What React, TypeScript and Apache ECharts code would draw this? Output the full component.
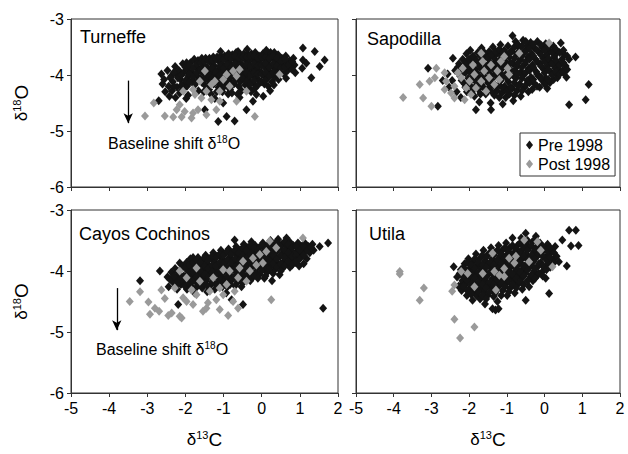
import React, { useEffect, useRef } from "react";
import * as echarts from "echarts";

// δ13C / δ18O pairs, Pre 1998 and Post 1998, for each reef site
const turneffePre: number[][] = [
  [-2.70,-4.46],[-2.63,-3.98],[-2.60,-4.16],[-2.56,-4.08],[-2.53,-4.30],
  [-2.47,-3.92],[-2.44,-4.20],[-2.42,-4.38],[-2.37,-4.02],[-2.33,-4.12],[-2.35,-4.28],
  [-2.27,-3.85],[-2.24,-3.98],[-2.22,-4.22],[-2.26,-4.40],[-2.17,-3.92],[-2.13,-4.08],[-2.15,-4.32],
  [-2.07,-3.80],[-2.04,-3.95],[-2.02,-4.15],[-2.06,-4.25],
  [-1.97,-3.78],[-1.94,-3.88],[-1.92,-4.02],[-1.96,-4.20],[-1.93,-4.36],
  [-1.87,-3.78],[-1.84,-3.95],[-1.82,-4.10],
  [-1.77,-3.72],[-1.74,-3.85],[-1.72,-4.00],[-1.76,-4.18],
  [-1.67,-3.74],[-1.64,-3.90],[-1.62,-4.06],[-1.66,-4.28],
  [-1.57,-3.70],[-1.54,-3.82],[-1.52,-3.98],[-1.56,-4.14],
  [-1.47,-3.70],[-1.44,-3.86],[-1.42,-4.05],[-1.46,-4.20],[-1.49,-4.62],
  [-1.37,-3.70],[-1.34,-3.78],[-1.32,-3.94],[-1.36,-4.10],[-1.33,-4.34],
  [-1.27,-3.68],[-1.24,-3.84],[-1.22,-4.00],[-1.26,-4.16],[-1.23,-4.42],
  [-1.17,-3.68],[-1.14,-3.74],[-1.12,-3.90],[-1.16,-4.06],[-1.13,-4.22],[-1.14,-4.83],
  [-1.07,-3.66],[-1.04,-3.80],[-1.02,-3.96],[-1.06,-4.12],[-1.03,-4.30],[-1.01,-4.50],
  [-0.97,-3.66],[-0.94,-3.72],[-0.92,-3.88],[-0.96,-4.02],[-0.93,-4.18],[-0.92,-4.74],
  [-0.87,-3.62],[-0.84,-3.78],[-0.82,-3.94],[-0.86,-4.10],[-0.83,-4.26],
  [-0.77,-3.64],[-0.74,-3.70],[-0.72,-3.85],[-0.76,-4.00],[-0.73,-4.16],[-0.71,-4.82],
  [-0.62,-3.58],[-0.67,-3.60],[-0.64,-3.74],[-0.62,-3.90],[-0.66,-4.06],[-0.63,-4.34],
  [-0.57,-3.64],[-0.54,-3.80],[-0.52,-3.96],[-0.56,-4.12],[-0.53,-4.28],
  [-0.47,-3.62],[-0.44,-3.72],[-0.42,-3.88],[-0.46,-4.02],[-0.43,-4.18],[-0.40,-4.62],
  [-0.37,-3.62],[-0.34,-3.76],[-0.32,-3.92],[-0.36,-4.08],[-0.33,-4.24],
  [-0.27,-3.62],[-0.24,-3.70],[-0.22,-3.86],[-0.26,-4.00],[-0.23,-4.14],[-0.23,-4.47],
  [-0.17,-3.60],[-0.14,-3.74],[-0.12,-3.90],[-0.16,-4.04],[-0.14,-4.35],
  [-0.07,-3.66],[-0.04,-3.80],[-0.02,-3.94],[-0.06,-4.10],[0.04,-4.38],
  [0.03,-3.62],[0.06,-3.72],[0.08,-3.86],[0.04,-4.00],[0.07,-4.16],
  [0.13,-3.62],[0.16,-3.76],[0.18,-3.92],[0.14,-4.06],[0.17,-4.20],
  [0.23,-3.60],[0.26,-3.68],[0.28,-3.84],[0.24,-3.98],[0.27,-4.12],
  [0.33,-3.60],[0.36,-3.74],[0.38,-3.90],[0.34,-4.04],
  [0.43,-3.64],[0.46,-3.80],[0.48,-3.94],[0.44,-4.08],
  [0.53,-3.70],[0.56,-3.84],[0.58,-3.98],
  [0.63,-3.66],[0.66,-3.78],[0.68,-3.92],[0.64,-4.06],
  [0.73,-3.74],[0.76,-3.88],[0.83,-3.70],[0.86,-3.82],[0.88,-3.96],
  [1.08,-3.52],[1.08,-3.73],[1.06,-3.88],[1.17,-3.79],[1.30,-4.05],[1.39,-3.58],[1.52,-3.85],[1.65,-3.73],
  [-2.40,-4.05],[-2.30,-3.95],[-2.30,-4.20],[-2.20,-4.05],[-2.10,-4.00],[-2.10,-4.18],
  [-2.00,-3.86],[-2.00,-4.10],[-1.90,-3.82],[-1.90,-3.98],[-1.90,-4.14],[-1.80,-3.88],[-1.80,-4.04],
  [-1.70,-3.80],[-1.70,-3.96],[-1.70,-4.12],[-1.60,-3.78],[-1.60,-3.92],[-1.60,-4.08],
  [-1.50,-3.76],[-1.50,-3.92],[-1.50,-4.10],[-1.40,-3.74],[-1.40,-3.90],[-1.40,-4.02],[-1.40,-4.18],
  [-1.30,-3.74],[-1.30,-3.88],[-1.30,-4.06],[-1.20,-3.72],[-1.20,-3.94],[-1.20,-4.10],
  [-1.10,-3.70],[-1.10,-3.84],[-1.10,-4.00],[-1.10,-4.16],[-1.00,-3.72],[-1.00,-3.88],[-1.00,-4.04],[-1.00,-4.22],
  [-0.90,-3.68],[-0.90,-3.82],[-0.90,-3.96],[-0.90,-4.12],[-0.80,-3.70],[-0.80,-3.86],[-0.80,-4.02],[-0.80,-4.18],
  [-0.70,-3.66],[-0.70,-3.80],[-0.70,-3.96],[-0.70,-4.10],[-0.60,-3.70],[-0.60,-3.84],[-0.60,-4.00],[-0.60,-4.20],
  [-0.50,-3.68],[-0.50,-3.84],[-0.50,-4.06],[-0.40,-3.68],[-0.40,-3.82],[-0.40,-3.96],[-0.40,-4.12],
  [-0.30,-3.66],[-0.30,-3.84],[-0.30,-4.00],[-0.30,-4.16],[-0.20,-3.66],[-0.20,-3.80],[-0.20,-3.96],[-0.20,-4.10],
  [-0.10,-3.70],[-0.10,-3.84],[-0.10,-3.98],[-0.10,-4.18],[0.00,-3.68],[0.00,-3.82],[0.00,-3.98],[0.00,-4.12],
  [0.10,-3.68],[0.10,-3.80],[0.10,-3.96],[0.10,-4.10],[0.20,-3.70],[0.20,-3.86],[0.20,-4.02],
  [0.30,-3.66],[0.30,-3.80],[0.30,-3.96],[0.40,-3.70],[0.40,-3.84],[0.40,-3.98],
  [0.50,-3.76],[0.50,-3.88],[0.60,-3.72],[0.60,-3.86],[0.70,-3.82],[0.80,-3.76],[0.80,-3.90],
  [-1.98,-4.42],[-1.52,-4.30],[-1.18,-4.30],[-0.88,-4.34],[-0.58,-4.40],[-0.28,-4.30],[0.22,-4.28],
  [-0.78,-4.32],[-1.38,-4.26],[-0.18,-4.24],[0.32,-4.18],[-1.08,-3.58],[-0.38,-3.54],[0.12,-3.56],
];

const turneffePost: number[][] = [
  [-3.06,-4.73],[-2.83,-4.50],[-2.54,-4.73],[-2.32,-4.75],[-2.23,-4.62],[-2.15,-4.53],
  [-2.10,-4.75],[-2.02,-4.65],[-1.84,-4.77],[-1.80,-4.68],[-1.67,-4.62],[-1.45,-4.71],
  [-2.06,-4.29],[-1.80,-4.26],[-1.49,-3.93],[-1.45,-4.29],[-1.32,-4.17],[-1.23,-4.11],
  [-1.10,-4.29],[-0.92,-3.99],[-0.75,-3.93],[-0.66,-4.02],[-0.58,-3.90],[-1.10,-4.47],
  [-1.32,-4.44],[-1.58,-4.41],[-0.18,-4.74],[0.47,-3.99],[-1.62,-4.11],[-1.75,-4.35],
  [-0.84,-4.20],[-1.01,-4.08],[-0.66,-4.47],[-0.40,-4.29],[-1.19,-4.62],
];

const sapodillaPre: number[][] = [
  [-3.09,-3.88],[-2.83,-4.56],[-2.70,-4.10],
  [-2.57,-3.98],[-2.53,-4.22],[-2.43,-3.70],[-2.45,-4.10],
  [-2.37,-3.92],[-2.33,-4.30],[-2.27,-3.80],[-2.24,-4.02],[-2.22,-4.40],
  [-2.17,-3.72],[-2.14,-3.90],[-2.12,-4.16],
  [-2.07,-3.62],[-2.04,-3.84],[-2.02,-4.06],[-2.06,-4.30],
  [-1.97,-3.56],[-1.94,-3.76],[-1.92,-3.98],[-1.96,-4.20],
  [-1.87,-3.68],[-1.84,-3.90],[-1.82,-4.12],[-1.86,-4.38],[-1.82,-4.62],
  [-1.77,-3.60],[-1.74,-3.82],[-1.72,-4.04],[-1.76,-4.26],[-1.73,-4.48],
  [-1.67,-3.52],[-1.64,-3.72],[-1.62,-3.96],[-1.66,-4.18],
  [-1.57,-3.64],[-1.54,-3.86],[-1.52,-4.08],[-1.56,-4.34],
  [-1.47,-3.58],[-1.44,-3.78],[-1.42,-4.00],[-1.46,-4.22],[-1.43,-4.50],[-1.42,-4.62],
  [-1.37,-3.50],[-1.34,-3.70],[-1.32,-3.92],[-1.36,-4.14],[-1.33,-4.36],
  [-1.27,-3.62],[-1.24,-3.84],[-1.22,-4.06],[-1.26,-4.28],
  [-1.17,-3.46],[-1.14,-3.66],[-1.12,-3.88],[-1.16,-4.10],[-1.13,-4.32],[-1.11,-4.52],
  [-1.07,-3.56],[-1.04,-3.76],[-1.02,-3.98],[-1.06,-4.20],[-1.03,-4.40],
  [-0.97,-3.48],[-0.94,-3.68],[-0.92,-3.90],[-0.96,-4.12],[-0.93,-4.34],
  [-0.85,-3.30],[-0.87,-3.58],[-0.84,-3.80],[-0.82,-4.02],[-0.86,-4.24],[-0.83,-4.46],
  [-0.77,-3.40],[-0.74,-3.62],[-0.72,-3.84],[-0.76,-4.06],[-0.73,-4.28],
  [-0.67,-3.52],[-0.64,-3.72],[-0.62,-3.94],[-0.66,-4.16],[-0.63,-4.38],
  [-0.57,-3.38],[-0.54,-3.58],[-0.52,-3.80],[-0.56,-4.00],[-0.53,-4.22],
  [-0.47,-3.48],[-0.44,-3.68],[-0.42,-3.88],[-0.46,-4.10],[-0.43,-4.30],
  [-0.37,-3.42],[-0.34,-3.62],[-0.32,-3.82],[-0.36,-4.04],[-0.33,-4.26],
  [-0.27,-3.52],[-0.24,-3.72],[-0.22,-3.94],[-0.26,-4.16],
  [-0.19,-3.40],[-0.14,-3.60],[-0.12,-3.80],[-0.16,-4.02],[-0.13,-4.22],
  [-0.07,-3.50],[-0.04,-3.70],[-0.02,-3.90],[-0.06,-4.10],
  [0.03,-3.44],[0.06,-3.64],[0.08,-3.84],[0.04,-4.06],[0.07,-4.24],
  [0.13,-3.56],[0.16,-3.76],[0.18,-3.96],[0.14,-4.14],
  [0.23,-3.48],[0.26,-3.68],[0.28,-3.88],[0.24,-4.08],
  [0.34,-4.05],[0.33,-3.60],[0.36,-3.80],[0.38,-3.90],[0.36,-4.00],
  [0.43,-3.43],[0.46,-3.72],[0.48,-3.92],
  [0.53,-3.64],[0.56,-3.84],[0.58,-4.04],
  [0.65,-3.72],[0.65,-4.53],[0.82,-3.68],[1.09,-4.44],[1.17,-4.17],
  [-2.30,-3.86],[-2.20,-3.96],[-2.20,-4.10],[-2.10,-3.78],[-2.10,-3.96],[-2.10,-4.22],
  [-2.00,-3.72],[-2.00,-3.92],[-2.00,-4.14],[-1.90,-3.66],[-1.90,-3.86],[-1.90,-4.06],[-1.90,-4.28],
  [-1.80,-3.74],[-1.80,-3.96],[-1.80,-4.18],[-1.70,-3.66],[-1.70,-3.88],[-1.70,-4.10],[-1.70,-4.34],
  [-1.60,-3.60],[-1.60,-3.80],[-1.60,-4.02],[-1.60,-4.24],[-1.50,-3.70],[-1.50,-3.92],[-1.50,-4.14],
  [-1.40,-3.64],[-1.40,-3.86],[-1.40,-4.08],[-1.40,-4.30],[-1.30,-3.58],[-1.30,-3.78],[-1.30,-4.00],[-1.30,-4.22],
  [-1.20,-3.54],[-1.20,-3.74],[-1.20,-3.96],[-1.20,-4.18],[-1.20,-4.40],
  [-1.10,-3.60],[-1.10,-3.80],[-1.10,-4.02],[-1.10,-4.24],[-1.00,-3.64],[-1.00,-3.86],[-1.00,-4.06],[-1.00,-4.28],
  [-0.90,-3.58],[-0.90,-3.78],[-0.90,-4.00],[-0.90,-4.22],[-0.80,-3.50],[-0.80,-3.70],[-0.80,-3.92],[-0.80,-4.14],[-0.80,-4.36],
  [-0.70,-3.46],[-0.70,-3.62],[-0.70,-3.78],[-0.70,-3.98],[-0.70,-4.20],
  [-0.60,-3.48],[-0.60,-3.66],[-0.60,-3.86],[-0.60,-4.06],[-0.60,-4.28],
  [-0.50,-3.40],[-0.50,-3.58],[-0.50,-3.76],[-0.50,-3.96],[-0.50,-4.18],
  [-0.40,-3.52],[-0.40,-3.72],[-0.40,-3.92],[-0.40,-4.14],[-0.30,-3.46],[-0.30,-3.66],[-0.30,-3.86],[-0.30,-4.08],
  [-0.20,-3.56],[-0.20,-3.76],[-0.20,-3.98],[-0.20,-4.20],[-0.10,-3.46],[-0.10,-3.64],[-0.10,-3.84],[-0.10,-4.04],
  [0.00,-3.56],[0.00,-3.76],[0.00,-3.96],[0.00,-4.16],[0.10,-3.50],[0.10,-3.70],[0.10,-3.90],[0.10,-4.08],
  [0.20,-3.60],[0.20,-3.80],[0.20,-4.00],[0.30,-3.54],[0.30,-3.74],[0.30,-3.94],
  [0.40,-3.60],[0.40,-3.82],[0.40,-3.98],[0.50,-3.56],[0.50,-3.78],[0.50,-3.96],[0.60,-3.66],[0.60,-3.90],
];

const sapodillaPost: number[][] = [
  [-3.75,-4.40],[-3.31,-4.17],[-3.22,-4.41],[-3.00,-4.56],[-3.05,-4.11],[-2.91,-4.05],
  [-2.87,-3.88],[-2.65,-3.96],[-2.61,-4.11],[-2.65,-4.26],[-2.48,-4.32],[-2.39,-4.20],
  [-2.39,-4.41],[-2.21,-4.05],[-2.12,-4.44],[-2.08,-4.23],[-1.99,-4.11],[-1.95,-4.35],
  [-1.86,-3.99],[-1.82,-4.23],[-1.68,-3.61],[-1.68,-4.11],[-1.60,-3.93],[-1.55,-4.29],
  [-1.47,-4.05],[-1.42,-3.82],[-1.33,-4.17],[-1.25,-3.93],[-1.16,-3.76],[-1.07,-3.67],
  [-1.20,-4.08],[-1.64,-3.76],[-0.98,-3.88],[-0.94,-3.99],[-0.67,-3.61],[0.12,-3.43],
  [-2.17,-3.88],[-2.30,-3.96],[-1.90,-3.82],
];

const cochinosPre: number[][] = [
  [-3.19,-4.16],[-2.67,-4.00],[-2.19,-4.55],[-1.80,-3.78],[-0.71,-3.49],[-0.49,-4.55],[-0.79,-4.47],
  [-2.47,-4.10],[-2.44,-4.26],[-2.37,-4.02],[-2.33,-4.18],
  [-2.27,-3.96],[-2.24,-4.12],[-2.22,-4.30],
  [-2.15,-3.87],[-2.14,-4.06],[-2.12,-4.22],
  [-2.07,-3.92],[-2.04,-4.08],[-2.02,-4.20],
  [-1.97,-3.86],[-1.94,-4.00],[-1.92,-4.14],[-1.96,-4.30],
  [-1.87,-3.80],[-1.84,-3.94],[-1.82,-4.10],[-1.86,-4.24],
  [-1.77,-3.88],[-1.74,-4.02],[-1.72,-4.18],[-1.76,-4.36],
  [-1.67,-3.78],[-1.64,-3.92],[-1.62,-4.06],[-1.66,-4.22],
  [-1.57,-3.84],[-1.54,-3.98],[-1.52,-4.12],[-1.56,-4.28],
  [-1.47,-3.74],[-1.44,-3.88],[-1.42,-4.02],[-1.46,-4.16],[-1.43,-4.34],
  [-1.37,-3.80],[-1.34,-3.94],[-1.32,-4.08],[-1.36,-4.24],
  [-1.27,-3.70],[-1.24,-3.84],[-1.22,-3.98],[-1.26,-4.12],[-1.23,-4.30],
  [-1.17,-3.76],[-1.14,-3.90],[-1.12,-4.04],[-1.16,-4.20],
  [-1.07,-3.66],[-1.04,-3.80],[-1.02,-3.94],[-1.06,-4.08],[-1.03,-4.26],
  [-0.97,-3.72],[-0.94,-3.86],[-0.92,-4.00],[-0.96,-4.14],[-0.93,-4.36],
  [-0.87,-3.64],[-0.84,-3.78],[-0.82,-3.92],[-0.86,-4.06],[-0.83,-4.22],
  [-0.77,-3.70],[-0.74,-3.84],[-0.72,-3.98],[-0.76,-4.12],
  [-0.67,-3.60],[-0.64,-3.74],[-0.62,-3.88],[-0.66,-4.02],[-0.63,-4.18],
  [-0.57,-3.66],[-0.54,-3.80],[-0.52,-3.94],[-0.56,-4.10],[-0.53,-4.26],
  [-0.47,-3.56],[-0.44,-3.70],[-0.42,-3.84],[-0.46,-3.98],[-0.43,-4.14],
  [-0.37,-3.62],[-0.34,-3.76],[-0.32,-3.90],[-0.36,-4.06],
  [-0.27,-3.52],[-0.24,-3.66],[-0.22,-3.80],[-0.26,-3.94],[-0.23,-4.10],
  [-0.17,-3.58],[-0.14,-3.72],[-0.12,-3.86],[-0.16,-4.02],
  [-0.07,-3.62],[-0.04,-3.76],[-0.02,-3.90],[-0.06,-4.06],
  [0.03,-3.54],[0.06,-3.68],[0.08,-3.82],[0.04,-3.96],[0.07,-4.12],
  [0.13,-3.60],[0.16,-3.74],[0.18,-3.88],[0.14,-4.02],
  [0.23,-3.50],[0.26,-3.64],[0.28,-3.78],[0.24,-3.92],[0.27,-4.16],
  [0.33,-3.56],[0.36,-3.70],[0.38,-3.84],[0.34,-3.98],
  [0.43,-3.48],[0.46,-3.62],[0.48,-3.76],[0.44,-3.90],[0.47,-4.06],
  [0.53,-3.56],[0.56,-3.70],[0.58,-3.84],[0.54,-3.96],
  [0.65,-3.46],[0.66,-3.60],[0.68,-3.74],[0.64,-3.88],
  [0.73,-3.52],[0.76,-3.66],[0.78,-3.80],[0.74,-3.94],
  [0.83,-3.58],[0.86,-3.72],[0.88,-3.86],
  [0.95,-3.54],[0.96,-3.66],[0.98,-3.78],[0.98,-3.92],
  [1.03,-3.60],[1.06,-3.72],[1.10,-3.88],
  [1.13,-3.54],[1.16,-3.66],[1.18,-3.80],
  [1.23,-3.60],[1.26,-3.70],
  [1.33,-3.56],[1.36,-3.66],
  [1.52,-3.60],[1.61,-4.61],[1.74,-3.54],
  [-2.40,-4.14],[-2.30,-4.08],[-2.20,-4.02],[-2.20,-4.20],[-2.10,-3.96],[-2.10,-4.14],
  [-2.00,-3.94],[-2.00,-4.10],[-2.00,-4.26],[-1.90,-3.90],[-1.90,-4.06],[-1.90,-4.20],
  [-1.80,-3.86],[-1.80,-4.02],[-1.80,-4.16],[-1.70,-3.82],[-1.70,-3.96],[-1.70,-4.10],[-1.70,-4.26],
  [-1.60,-3.86],[-1.60,-4.00],[-1.60,-4.16],[-1.50,-3.78],[-1.50,-3.92],[-1.50,-4.06],[-1.50,-4.20],
  [-1.40,-3.82],[-1.40,-3.96],[-1.40,-4.10],[-1.40,-4.26],[-1.30,-3.76],[-1.30,-3.90],[-1.30,-4.02],[-1.30,-4.18],
  [-1.20,-3.78],[-1.20,-3.92],[-1.20,-4.06],[-1.20,-4.22],[-1.10,-3.72],[-1.10,-3.86],[-1.10,-4.00],[-1.10,-4.14],
  [-1.00,-3.74],[-1.00,-3.88],[-1.00,-4.02],[-1.00,-4.18],[-0.90,-3.68],[-0.90,-3.82],[-0.90,-3.96],[-0.90,-4.10],[-0.90,-4.26],
  [-0.80,-3.72],[-0.80,-3.86],[-0.80,-4.00],[-0.80,-4.16],[-0.70,-3.66],[-0.70,-3.80],[-0.70,-3.94],[-0.70,-4.08],[-0.70,-4.24],
  [-0.60,-3.70],[-0.60,-3.84],[-0.60,-3.98],[-0.60,-4.14],[-0.50,-3.62],[-0.50,-3.76],[-0.50,-3.90],[-0.50,-4.04],[-0.50,-4.20],
  [-0.40,-3.66],[-0.40,-3.80],[-0.40,-3.94],[-0.40,-4.10],[-0.30,-3.58],[-0.30,-3.72],[-0.30,-3.86],[-0.30,-4.00],[-0.30,-4.16],
  [-0.20,-3.62],[-0.20,-3.76],[-0.20,-3.90],[-0.20,-4.06],[-0.10,-3.66],[-0.10,-3.80],[-0.10,-3.94],[-0.10,-4.12],
  [0.00,-3.58],[0.00,-3.72],[0.00,-3.86],[0.00,-4.00],[0.10,-3.64],[0.10,-3.78],[0.10,-3.92],[0.10,-4.08],
  [0.20,-3.56],[0.20,-3.70],[0.20,-3.84],[0.20,-3.98],[0.30,-3.60],[0.30,-3.74],[0.30,-3.88],[0.30,-4.04],
  [0.40,-3.52],[0.40,-3.66],[0.40,-3.80],[0.40,-3.94],[0.50,-3.60],[0.50,-3.74],[0.50,-3.88],[0.50,-4.00],
  [0.60,-3.52],[0.60,-3.66],[0.60,-3.78],[0.60,-3.92],[0.70,-3.56],[0.70,-3.70],[0.70,-3.84],
  [0.80,-3.62],[0.80,-3.76],[0.80,-3.90],[0.90,-3.60],[0.90,-3.74],[0.90,-3.84],[1.00,-3.66],[1.00,-3.80],
  [1.10,-3.60],[1.10,-3.74],[1.20,-3.66],[1.30,-3.62],
];

const cochinosPost: number[][] = [
  [-3.46,-4.50],[-3.19,-4.34],[-2.97,-4.51],[-2.80,-4.61],[-2.93,-4.71],[-2.69,-4.66],
  [-2.63,-4.31],[-2.54,-4.45],[-2.45,-4.73],[-2.36,-4.69],[-2.28,-4.28],[-2.15,-4.74],
  [-2.10,-4.77],[-2.06,-4.44],[-1.97,-4.50],[-1.84,-4.31],[-1.80,-4.55],[-1.71,-4.39],
  [-1.62,-4.17],[-1.54,-4.66],[-1.45,-4.61],[-1.41,-4.52],[-1.36,-4.33],[-1.27,-4.11],
  [-1.19,-4.47],[-1.10,-4.28],[-1.01,-4.39],[-0.92,-4.22],[-0.88,-4.73],[-0.84,-4.00],
  [-0.71,-4.33],[-0.62,-4.11],[-0.62,-4.61],[-0.58,-3.95],[-0.49,-3.84],[-0.40,-4.17],
  [-0.31,-4.00],[-0.23,-3.79],[-0.14,-3.90],[-0.05,-3.73],[0.03,-3.87],[0.12,-3.68],
  [0.21,-3.51],[0.25,-4.47],[0.38,-3.62],[1.08,-3.46],[-1.97,-4.11],[-2.15,-4.00],
  [-1.71,-3.95],[-1.01,-3.98],[-0.75,-4.50],[-1.10,-4.63],
];

const utilaPre: number[][] = [
  [-2.41,-3.93],[-2.21,-4.23],
  [-2.32,-4.10],[-2.28,-4.25],
  [-2.22,-3.98],[-2.18,-4.16],[-2.20,-4.32],
  [-2.12,-3.88],[-2.08,-4.06],[-2.10,-4.22],[-2.06,-4.40],
  [-2.02,-3.80],[-1.98,-3.96],[-2.00,-4.12],[-1.97,-4.28],
  [-1.92,-3.86],[-1.88,-4.02],[-1.90,-4.18],[-1.87,-4.34],[-1.91,-4.48],
  [-1.82,-3.72],[-1.78,-3.90],[-1.80,-4.06],[-1.77,-4.22],[-1.81,-4.40],
  [-1.72,-3.80],[-1.68,-3.96],[-1.70,-4.12],[-1.67,-4.28],[-1.71,-4.46],
  [-1.62,-3.66],[-1.58,-3.84],[-1.60,-4.00],[-1.57,-4.16],[-1.61,-4.34],[-1.58,-4.54],
  [-1.52,-3.74],[-1.48,-3.90],[-1.50,-4.06],[-1.47,-4.22],[-1.51,-4.40],
  [-1.42,-3.62],[-1.38,-3.80],[-1.40,-3.96],[-1.37,-4.12],[-1.41,-4.28],[-1.38,-4.62],
  [-1.32,-3.70],[-1.28,-3.86],[-1.30,-4.02],[-1.27,-4.18],[-1.31,-4.36],[-1.30,-4.64],
  [-1.22,-3.58],[-1.18,-3.76],[-1.20,-3.92],[-1.17,-4.08],[-1.21,-4.24],[-1.22,-4.62],
  [-1.12,-3.66],[-1.08,-3.82],[-1.10,-3.98],[-1.07,-4.14],[-1.11,-4.32],
  [-1.02,-3.54],[-0.98,-3.72],[-1.00,-3.88],[-0.97,-4.04],[-1.01,-4.20],[-0.99,-4.40],
  [-0.92,-3.62],[-0.88,-3.78],[-0.90,-3.94],[-0.87,-4.10],[-0.91,-4.28],
  [-0.85,-3.46],[-0.78,-3.68],[-0.80,-3.84],[-0.77,-4.00],[-0.81,-4.16],[-0.79,-4.36],
  [-0.72,-3.58],[-0.68,-3.74],[-0.70,-3.90],[-0.67,-4.06],[-0.71,-4.22],
  [-0.62,-3.46],[-0.58,-3.64],[-0.60,-3.80],[-0.57,-3.96],[-0.61,-4.12],[-0.59,-4.30],
  [-0.50,-3.38],[-0.48,-3.56],[-0.50,-3.72],[-0.47,-3.88],[-0.51,-4.04],[-0.50,-4.48],
  [-0.42,-3.62],[-0.38,-3.78],[-0.40,-3.94],[-0.37,-4.10],[-0.41,-4.26],
  [-0.32,-3.52],[-0.28,-3.68],[-0.30,-3.84],[-0.27,-4.00],[-0.31,-4.16],
  [-0.23,-3.43],[-0.18,-3.60],[-0.20,-3.76],[-0.17,-3.92],[-0.21,-4.08],
  [-0.12,-3.54],[-0.08,-3.70],[-0.10,-3.86],[-0.07,-4.02],
  [-0.02,-3.62],[0.02,-3.78],[0.00,-3.94],[0.03,-4.12],
  [0.08,-3.56],[0.12,-3.72],[0.10,-3.88],[0.12,-4.37],
  [0.18,-3.66],[0.22,-3.82],[0.28,-3.60],[0.32,-3.76],
  [0.38,-3.85],[0.47,-3.49],[0.59,-3.92],[0.65,-3.33],[0.70,-3.59],[0.83,-3.33],[0.90,-3.58],
  [-2.25,-4.04],[-2.15,-3.94],[-2.15,-4.10],[-2.15,-4.26],[-2.05,-3.86],[-2.05,-4.00],[-2.05,-4.16],[-2.05,-4.32],
  [-1.95,-3.90],[-1.95,-4.06],[-1.95,-4.22],[-1.95,-4.38],[-1.85,-3.80],[-1.85,-3.96],[-1.85,-4.12],[-1.85,-4.28],
  [-1.75,-3.86],[-1.75,-4.02],[-1.75,-4.18],[-1.75,-4.34],[-1.65,-3.74],[-1.65,-3.90],[-1.65,-4.06],[-1.65,-4.22],[-1.65,-4.40],
  [-1.55,-3.78],[-1.55,-3.94],[-1.55,-4.10],[-1.55,-4.28],[-1.55,-4.46],[-1.45,-3.70],[-1.45,-3.86],[-1.45,-4.02],[-1.45,-4.18],[-1.45,-4.34],
  [-1.35,-3.74],[-1.35,-3.90],[-1.35,-4.06],[-1.35,-4.22],[-1.35,-4.42],[-1.25,-3.66],[-1.25,-3.82],[-1.25,-3.98],[-1.25,-4.14],[-1.25,-4.30],[-1.25,-4.50],
  [-1.15,-3.72],[-1.15,-3.88],[-1.15,-4.04],[-1.15,-4.20],[-1.15,-4.40],[-1.05,-3.62],[-1.05,-3.78],[-1.05,-3.94],[-1.05,-4.10],[-1.05,-4.26],
  [-0.95,-3.68],[-0.95,-3.84],[-0.95,-4.00],[-0.95,-4.16],[-0.95,-4.34],[-0.85,-3.58],[-0.85,-3.74],[-0.85,-3.90],[-0.85,-4.06],[-0.85,-4.22],
  [-0.75,-3.64],[-0.75,-3.80],[-0.75,-3.96],[-0.75,-4.12],[-0.75,-4.28],[-0.65,-3.54],[-0.65,-3.70],[-0.65,-3.86],[-0.65,-4.02],[-0.65,-4.18],
  [-0.55,-3.60],[-0.55,-3.76],[-0.55,-3.92],[-0.55,-4.08],[-0.55,-4.22],[-0.45,-3.50],[-0.45,-3.66],[-0.45,-3.82],[-0.45,-3.98],[-0.45,-4.16],
  [-0.35,-3.58],[-0.35,-3.74],[-0.35,-3.90],[-0.35,-4.06],[-0.25,-3.48],[-0.25,-3.64],[-0.25,-3.80],[-0.25,-3.96],[-0.25,-4.12],
  [-0.15,-3.56],[-0.15,-3.72],[-0.15,-3.88],[-0.15,-4.04],[-0.05,-3.60],[-0.05,-3.76],[-0.05,-3.92],[-0.05,-4.08],
  [0.05,-3.66],[0.05,-3.82],[0.05,-3.98],[0.15,-3.62],[0.15,-3.78],[0.15,-3.94],[0.25,-3.70],[0.25,-3.86],
];

const utilaPost: number[][] = [
  [-3.84,-4.01],[-3.84,-4.05],[-3.20,-4.28],[-3.31,-4.48],[-2.45,-4.33],[-2.39,-4.23],
  [-2.39,-4.79],[-1.86,-4.92],[-2.24,-5.10],[-2.21,-4.01],[-2.04,-4.04],[-1.38,-3.71],
  [-1.86,-4.26],[-1.29,-4.31],[-1.33,-4.01],[-1.20,-4.07],[-1.07,-4.09],[-0.94,-3.79],
  [-0.80,-3.87],[-0.76,-3.76],[-0.54,-3.49],[-0.41,-3.85],[-0.10,-3.66],[-0.19,-3.52],
  [0.21,-3.93],[-1.64,-4.04],[-1.07,-3.96],
];

// axis ranges and tick labels
const xTicks = [-5, -4, -3, -2, -1, 0, 1, 2];
const yTicks = [-6, -5, -4, -3];
const seriesNames = ["Pre 1998", "Post 1998"];
const siteNames = ["Turneffe", "Sapodilla", "Cayos Cochinos", "Utila"];

// baseline shift arrows: [x, yStart, yEnd]
const shiftArrowTop = [-3.5, -4.1, -4.86];
const shiftArrowBottom = [-3.8, -4.28, -4.97];

const FONT = "'Liberation Sans', Arial, Helvetica, sans-serif";
const PRE_COLOR = "#141414";
const POST_COLOR = "#9a9a9a";
const AXIS_COLOR = "#333";

const grids = [
  { left: 71, top: 19, width: 267, height: 168 },
  { left: 356, top: 19, width: 264, height: 168 },
  { left: 71, top: 210, width: 267, height: 183 },
  { left: 356, top: 210, width: 264, height: 183 },
];

const deltaRich = {
  d: { fontSize: 17, fontFamily: FONT, color: "#000", lineHeight: 20 },
  s: { fontSize: 11, fontFamily: FONT, color: "#000", lineHeight: 12, verticalAlign: "top" },
  o: { fontSize: 19, fontFamily: FONT, color: "#000", lineHeight: 20 },
};

export default function App() {
  const ref = useRef<HTMLDivElement>(null);

  useEffect(() => {
    if (!ref.current) return;
    const chart = echarts.init(ref.current, undefined, { renderer: "svg" });

    const sets = [
      [turneffePre, turneffePost],
      [sapodillaPre, sapodillaPost],
      [cochinosPre, cochinosPost],
      [utilaPre, utilaPost],
    ];

    const xAxis = grids.map((_, i) => {
      const bottom = i >= 2;
      return {
        type: "value",
        gridIndex: i,
        min: xTicks[0],
        max: xTicks[xTicks.length - 1],
        interval: 1,
        axisLine: { show: true, onZero: false, lineStyle: { color: AXIS_COLOR, width: 1 } },
        axisTick: { show: true, inside: false, length: 4, lineStyle: { color: AXIS_COLOR } },
        axisLabel: {
          show: bottom,
          margin: 7,
          fontSize: 16,
          fontFamily: FONT,
          color: "#000",
        },
        splitLine: { show: false },
        name: bottom ? "{d|δ}{s|13}{o|C}" : "",
        nameLocation: "middle",
        nameGap: 36,
        nameTextStyle: { rich: deltaRich },
      };
    });

    const yAxis = grids.map((_, i) => {
      const left = i % 2 === 0;
      return {
        type: "value",
        gridIndex: i,
        min: yTicks[0],
        max: yTicks[yTicks.length - 1],
        interval: 1,
        axisLine: { show: true, onZero: false, lineStyle: { color: AXIS_COLOR, width: 1 } },
        axisTick: { show: true, inside: false, length: 4, lineStyle: { color: AXIS_COLOR } },
        axisLabel: {
          show: left,
          margin: 7,
          fontSize: 16,
          fontFamily: FONT,
          color: "#000",
        },
        splitLine: { show: false },
        name: left ? "{d|δ}{s|18}{o|O}" : "",
        nameLocation: "middle",
        nameGap: 40,
        nameRotate: 90,
        nameTextStyle: { rich: deltaRich },
      };
    });

    const arrowLine = (a: number[]) => ({
      silent: true,
      symbol: ["none", "arrow"],
      symbolSize: [7, 10],
      label: { show: false },
      lineStyle: { color: "#000", width: 1.3, type: "solid" },
      data: [[{ coord: [a[0], a[1]] }, { coord: [a[0], a[2]] }]],
    });

    const series: any[] = [];
    sets.forEach(([pre, post], i) => {
      series.push({
        type: "scatter",
        name: seriesNames[0],
        xAxisIndex: i,
        yAxisIndex: i,
        data: pre,
        symbol: "diamond",
        symbolSize: [8, 9],
        itemStyle: { color: PRE_COLOR, opacity: 1 },
        markLine: i === 0 ? arrowLine(shiftArrowTop) : i === 2 ? arrowLine(shiftArrowBottom) : undefined,
      });
      series.push({
        type: "scatter",
        name: seriesNames[1],
        xAxisIndex: i,
        yAxisIndex: i,
        data: post,
        symbol: "diamond",
        symbolSize: [8, 9],
        itemStyle: { color: POST_COLOR, opacity: 1 },
      });
    });

    const titlePos = [
      [80, 37],
      [367, 39],
      [79, 234],
      [369, 234],
    ];

    const shiftText = (x: number, y: number) => ({
      type: "text",
      x,
      y,
      style: {
        text: "{a|Baseline shift δ}{s|18}{a|O}",
        verticalAlign: "middle",
        rich: {
          a: { fontSize: 16, fontFamily: FONT, fill: "#000", lineHeight: 18 },
          s: { fontSize: 10, fontFamily: FONT, fill: "#000", lineHeight: 11, verticalAlign: "top" },
        },
      },
    });

    chart.setOption({
      animation: false,
      backgroundColor: "#fff",
      grid: grids.map((g) => ({
        ...g,
        show: true,
        borderColor: AXIS_COLOR,
        borderWidth: 1,
        backgroundColor: "transparent",
        containLabel: false,
      })),
      xAxis,
      yAxis,
      legend: {
        data: seriesNames.map((n) => ({ name: n, icon: "diamond" })),
        orient: "vertical",
        left: 520,
        top: 133,
        itemWidth: 7,
        itemHeight: 9,
        itemGap: 1,
        padding: [3, 5, 3, 6],
        borderColor: AXIS_COLOR,
        borderWidth: 1,
        backgroundColor: "#fff",
        selectedMode: false,
        textStyle: { fontSize: 16, fontFamily: FONT, color: "#000", lineHeight: 18 },
      },
      graphic: [
        ...siteNames.map((name, i) => ({
          type: "text",
          x: titlePos[i][0],
          y: titlePos[i][1],
          style: {
            text: name,
            fontSize: 18,
            fontFamily: FONT,
            fill: "#000",
            verticalAlign: "middle",
          },
        })),
        shiftText(108, 143),
        shiftText(96, 349),
      ],
      series,
    });

    return () => chart.dispose();
  }, []);

  return (
    <div
      ref={ref}
      style={{ position: "absolute", left: 0, top: 0, width: 628, height: 454, background: "#fff" }}
    />
  );
}
